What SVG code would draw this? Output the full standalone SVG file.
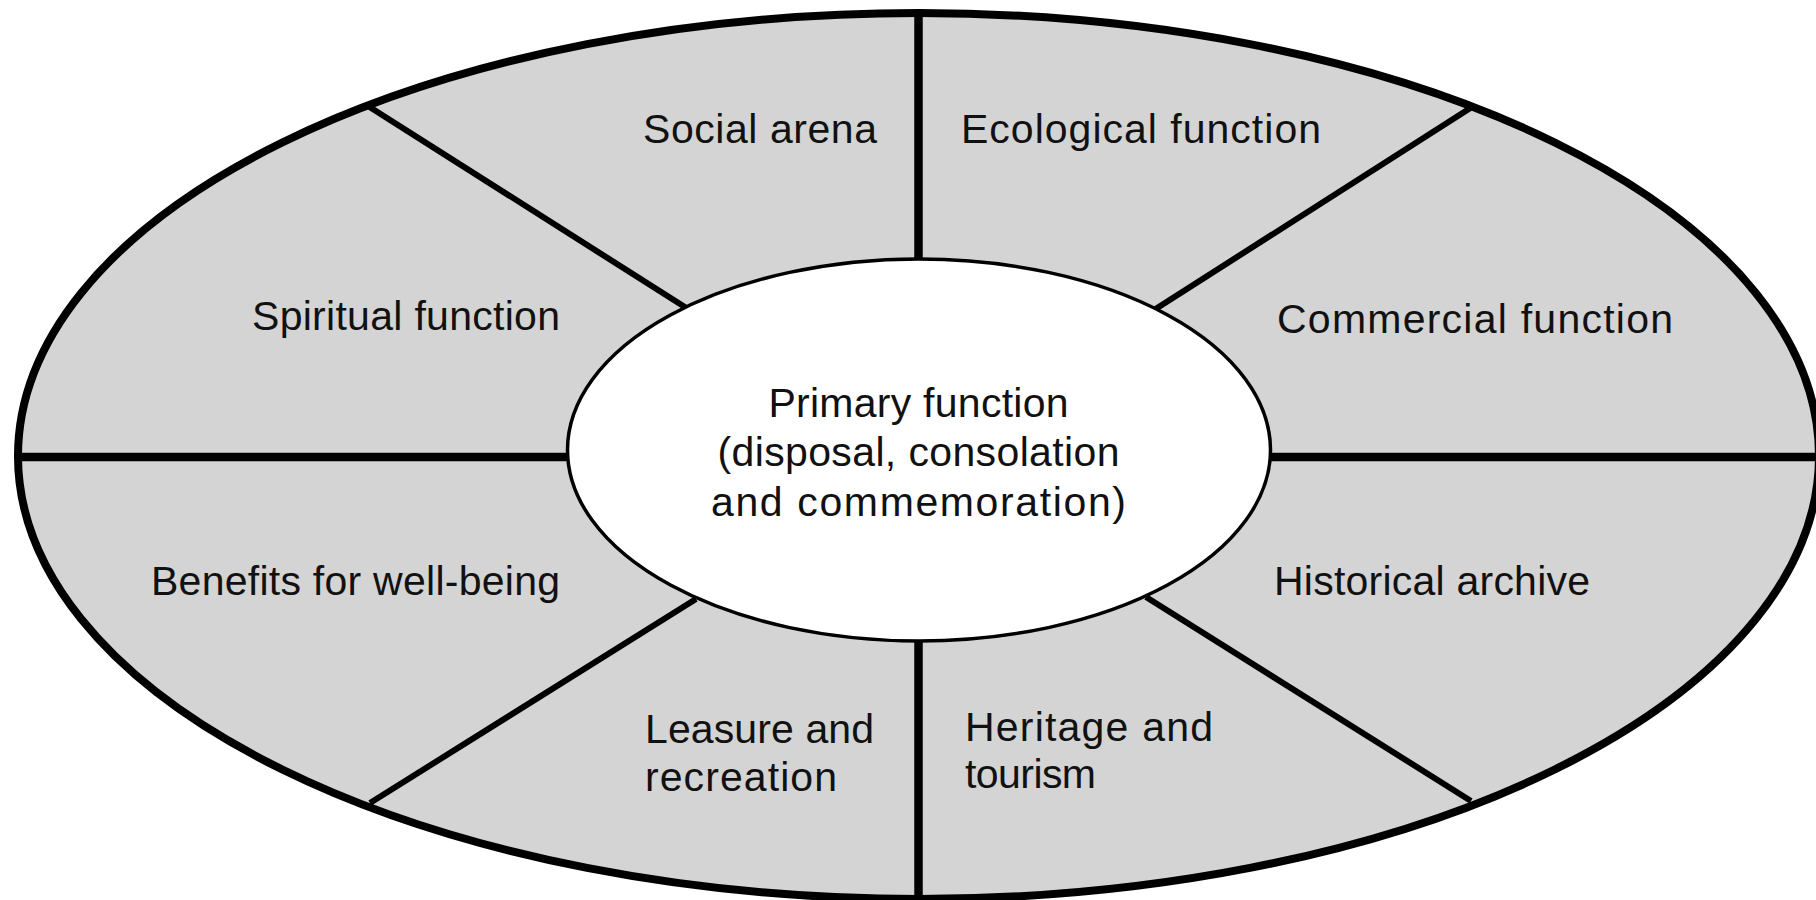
<svg xmlns="http://www.w3.org/2000/svg" width="1816" height="900" viewBox="0 0 1816 900">
  <style>
    .outer { fill: #d4d4d4; stroke: #000; stroke-width: 8; }
    .inner { fill: #fff; stroke: #000; stroke-width: 3.5; }
    .axis { stroke: #000; stroke-width: 8.5; fill: none; }
    .diag { stroke: #000; stroke-width: 6; fill: none; }
    .label { font-family: "Liberation Sans", Arial, sans-serif; font-size: 41px; fill: #111; }
    .end { text-anchor: end; }
    .mid { text-anchor: middle; }
  </style>

  <rect width="1816" height="900" fill="#fff"/>

  <!-- outer ring of secondary functions -->
  <ellipse id="ring" class="outer" cx="918.5" cy="456" rx="900.5" ry="443"/>

  <!-- dividers between the sectors -->
  <g id="connectors">
    <line class="axis" x1="918.5" y1="12" x2="918.5" y2="262"/>
    <line class="axis" x1="918.5" y1="638" x2="918.5" y2="900"/>
    <line class="axis" x1="18" y1="457" x2="570" y2="457"/>
    <line class="axis" x1="1268" y1="457" x2="1816" y2="457"/>
    <line class="diag" x1="368" y1="106" x2="688" y2="309"/>
    <line class="diag" x1="1472" y1="107" x2="1154" y2="310"/>
    <line class="diag" x1="370" y1="803" x2="696" y2="599"/>
    <line class="diag" x1="1471" y1="801" x2="1146" y2="597"/>
  </g>

  <!-- centre: primary function -->
  <g id="primary">
    <ellipse class="inner" cx="919" cy="450" rx="351.5" ry="191"/>
    <text class="label mid" x="918.5" y="417" textLength="300">Primary function</text>
    <text class="label mid" x="918.5" y="466" textLength="402">(disposal, consolation</text>
    <text class="label mid" x="918.5" y="516" textLength="415">and commemoration)</text>
  </g>

  <g id="social">
    <text class="label end" x="877" y="143" textLength="234">Social arena</text>
  </g>
  <g id="ecological">
    <text class="label" x="961" y="143" textLength="360">Ecological function</text>
  </g>
  <g id="spiritual">
    <text class="label end" x="560" y="330" textLength="308">Spiritual function</text>
  </g>
  <g id="commercial">
    <text class="label" x="1277" y="333" textLength="396">Commercial function</text>
  </g>
  <g id="wellbeing">
    <text class="label end" x="560" y="595" textLength="409">Benefits for well-being</text>
  </g>
  <g id="historical">
    <text class="label" x="1274" y="595" textLength="316">Historical archive</text>
  </g>
  <g id="leisure">
    <text class="label" x="645" y="743" textLength="229">Leasure and</text>
    <text class="label" x="645" y="791" textLength="192">recreation</text>
  </g>
  <g id="heritage">
    <text class="label" x="965" y="741" textLength="248">Heritage and</text>
    <text class="label" x="965" y="788" textLength="131">tourism</text>
  </g>
</svg>
